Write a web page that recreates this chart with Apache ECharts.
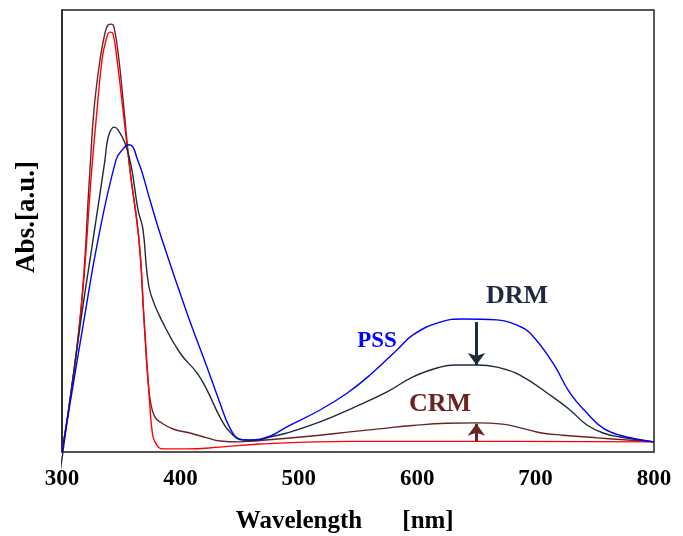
<!DOCTYPE html>
<html>
<head>
<meta charset="utf-8">
<script src="https://cdn.jsdelivr.net/npm/echarts@6/dist/echarts.min.js"></script>
<style>
html,body{margin:0;padding:0;background:#fff;}
#chart{width:683px;height:536px;}
</style>
</head>
<body>
<div id="chart"></div>
<script>
var xTicks = [300, 400, 500, 600, 700, 800];

var pss = [[300,0],[318.6,0.299],[330.4,0.480],[345.6,0.661],[350.7,0.683],[356.6,0.695],[360.0,0.690],[363.3,0.665],[367.6,0.633],[374.3,0.570],[384.5,0.480],[405.6,0.314],[422.5,0.192],[433.4,0.111],[441.9,0.054],[450.3,0.029],[458.8,0.027],[475.7,0.036],[490.0,0.057],[517.9,0.095],[540.7,0.133],[560.1,0.174],[582.9,0.231],[596.5,0.265],[619.3,0.294],[638.7,0.301],[667.4,0.299],[684.3,0.287],[695.3,0.269],[714.7,0.201],[729.1,0.133],[743.4,0.088],[757.0,0.054],[771.3,0.038],[800,0.023]];

var drm = [[298.3,-0.047],[300.8,0],[316.0,0.299],[326.2,0.480],[336.3,0.661],[338.0,0.699],[340.5,0.724],[343.9,0.735],[347.3,0.729],[353.2,0.699],[358.3,0.649],[364.2,0.548],[368.4,0.503],[371.8,0.405],[375.2,0.355],[385.3,0.292],[399.7,0.224],[414.0,0.179],[422.5,0.140],[433.4,0.079],[441.9,0.045],[452.9,0.027],[463.0,0.026],[475.7,0.034],[490.0,0.043],[517.9,0.068],[545.8,0.100],[574.5,0.136],[596.5,0.170],[619.3,0.192],[631.9,0.197],[650.5,0.197],[667.4,0.192],[686.8,0.174],[714.7,0.124],[729.1,0.095],[743.4,0.061],[757.0,0.043],[771.3,0.034],[800,0.023]];

var crm = [[300,0],[315.2,0.299],[323.6,0.638],[327.0,0.774],[332.1,0.887],[336.3,0.948],[338.9,0.966],[341.4,0.968],[343.9,0.962],[348.1,0.887],[352.4,0.774],[357.4,0.638],[365.0,0.480],[369.3,0.299],[372.6,0.163],[375.2,0.106],[378.5,0.079],[382.8,0.068],[393.8,0.052],[408.1,0.043],[422.5,0.032],[433.4,0.025],[450.3,0.023],[461.3,0.025],[490.0,0.031],[517.9,0.038],[545.0,0.046],[570.0,0.053],[596.5,0.060],[625.2,0.065],[650.5,0.066],[672.0,0.063],[690.0,0.053],[705.0,0.043],[723.1,0.038],[751.9,0.032],[800,0.023]];

var ref = [[300,0],[315.2,0.299],[325.3,0.645],[329.6,0.774],[333.8,0.887],[337.2,0.932],[340.5,0.950],[343.1,0.946],[346.5,0.887],[351.5,0.774],[357.4,0.638],[365.0,0.480],[369.3,0.299],[374.3,0.102],[376.0,0.050],[378.5,0.023],[385.3,0.007],[405.6,0.007],[433.4,0.011],[467.2,0.018],[543.2,0.024],[650.5,0.024],[800,0.023]];

var drmArrow = [[650,0.294],[650,0.197]];
var crmArrow = [[650,0.025],[650,0.064]];

var FONT = '"Liberation Serif","Times New Roman",serif';
var chart = echarts.init(document.getElementById('chart'));

function line(name, data, color, z, clip) {
  return {
    name: name, type: 'line', data: data, showSymbol: false, symbol: 'none',
    smooth: 0.45, z: z, clip: clip !== false,
    lineStyle: { color: color, width: 1.4 }
  };
}
function arrow(data, color) {
  return {
    type: 'line', data: [], silent: true,
    markLine: {
      silent: true, symbol: ['none', 'arrow'], symbolSize: [13, 12],
      label: { show: false },
      lineStyle: { color: color, width: 3, type: 'solid' },
      data: [[{ coord: data[0] }, { coord: data[1] }]]
    }
  };
}

chart.setOption({
  animation: false,
  backgroundColor: '#fff',
  grid: { left: 62, right: 29, top: 10, bottom: 84, show: true, borderColor: '#222', borderWidth: 1.5, backgroundColor: 'transparent' },
  xAxis: {
    type: 'value', min: 300, max: 800, interval: 100,
    axisLine: { show: true, lineStyle: { color: '#555', width: 2 } },
    axisTick: { show: false },
    splitLine: { show: false },
    axisLabel: { color: '#000', fontFamily: FONT, fontWeight: 'bold', fontSize: 23, margin: 16,
      customValues: xTicks }
  },
  yAxis: {
    type: 'value', min: 0, max: 1,
    axisLine: { show: true, lineStyle: { color: '#222', width: 1.5 } },
    axisTick: { show: false }, axisLabel: { show: false }, splitLine: { show: false }
  },
  series: [
    line('CRM', crm, '#6a2323', 3),
    line('Ref', ref, '#ff0000', 4),
    line('DRM', drm, '#1c2a3e', 5, false),
    line('PSS', pss, '#0000ff', 6),
    arrow(drmArrow, '#1c2a3e'),
    arrow(crmArrow, '#6a2323')
  ],
  graphic: [
    { type: 'text', x: 517, y: 296, style: { text: 'DRM', fill: '#1b2a40', font: 'bold 26px ' + FONT, textAlign: 'center', textVerticalAlign: 'middle' } },
    { type: 'text', x: 377, y: 341, style: { text: 'PSS', fill: '#0000ff', font: 'bold 23px ' + FONT, textAlign: 'center', textVerticalAlign: 'middle' } },
    { type: 'text', x: 440, y: 404, style: { text: 'CRM', fill: '#6a2323', font: 'bold 26px ' + FONT, textAlign: 'center', textVerticalAlign: 'middle' } },
    { type: 'text', x: 299, y: 522, style: { text: 'Wavelength', fill: '#000', font: 'bold 25px ' + FONT, textAlign: 'center', textVerticalAlign: 'middle' } },
    { type: 'text', x: 428, y: 522, style: { text: '[nm]', fill: '#000', font: 'bold 25px ' + FONT, textAlign: 'center', textVerticalAlign: 'middle' } },
    { type: 'text', x: 27, y: 217, rotation: Math.PI / 2, style: { text: 'Abs.[a.u.]', fill: '#000', font: 'bold 27px ' + FONT, textAlign: 'center', textVerticalAlign: 'middle' } }
  ]
});
</script>
</body>
</html>
